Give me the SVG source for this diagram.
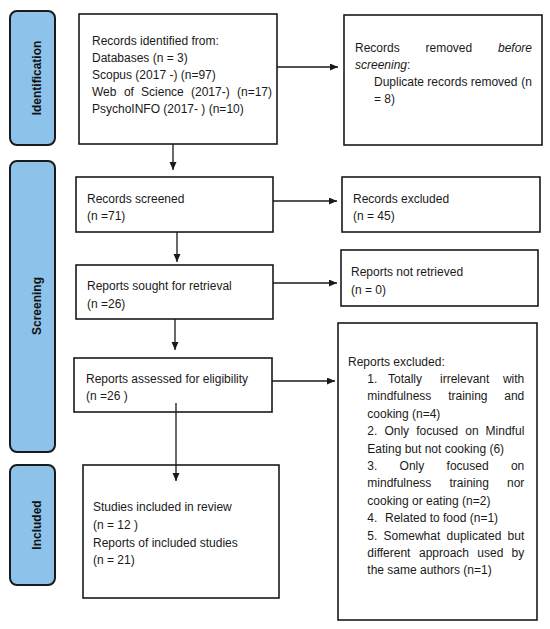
<svg xmlns="http://www.w3.org/2000/svg" width="550" height="629" viewBox="0 0 550 629">
<style>
.bg{fill:#ffffff}
.box{fill:#ffffff;stroke:#1a1a1a;stroke-width:1.6}
.side{fill:#8dc3eb;stroke:#1a1a1a;stroke-width:2}
.t{font-family:"Liberation Sans",Arial,sans-serif;font-size:12px;fill:#1a1a1a}
.it{font-style:italic}
.st{font-family:"Liberation Sans",Arial,sans-serif;font-size:12px;font-weight:bold;fill:#111111;text-anchor:middle}
.end{text-anchor:end}
.ln{stroke:#1a1a1a;stroke-width:1.3;fill:none;marker-end:url(#ah)}
</style>
<defs>
<marker id="ah" markerUnits="userSpaceOnUse" markerWidth="9" markerHeight="8" refX="8" refY="3.5" orient="auto">
<path d="M0,0 L8,3.5 L0,7 z" fill="#1a1a1a"/>
</marker>
</defs>
<rect class="bg" x="0" y="0" width="550" height="629"/>

<g id="side-identification">
<rect class="side" x="10" y="11" width="45" height="134" rx="7"/>
<text class="st" transform="translate(40.5,78) rotate(-90)">Identification</text>
</g>
<g id="side-screening">
<rect class="side" x="10" y="161" width="45" height="291" rx="7"/>
<text class="st" transform="translate(40.5,306) rotate(-90)">Screening</text>
</g>
<g id="side-included">
<rect class="side" x="10" y="465" width="45" height="120" rx="7"/>
<text class="st" transform="translate(40.5,525) rotate(-90)">Included</text>
</g>

<g id="records-identified">
<rect class="box" x="79" y="14" width="198" height="130"/>
<text class="t" x="92" y="45">Records identified from:</text>
<text class="t" x="92" y="62">Databases (n = 3)</text>
<text class="t" x="92" y="79">Scopus (2017 -) (n=97)</text>
<text class="t" y="95.5"><tspan x="92">Web</tspan><tspan x="123.9">of</tspan><tspan x="141.1">Science</tspan><tspan x="191">(2017-)</tspan></text>
<text class="t end" x="272" y="95.5">(n=17)</text>
<text class="t" x="92" y="112.5">PsychoINFO (2017- ) (n=10)</text>
</g>

<g id="records-removed">
<rect class="box" x="344" y="15" width="198" height="130"/>
<text class="t" y="52"><tspan x="355">Records</tspan><tspan x="425.5">removed</tspan></text>
<text class="t it end" x="532" y="52">before</text>
<text class="t" x="355" y="69"><tspan class="it">screening</tspan>:</text>
<text class="t" x="374" y="86">Duplicate records removed</text>
<text class="t end" x="532" y="86">(n</text>
<text class="t" x="374" y="103">= 8)</text>
</g>

<g id="records-screened">
<rect class="box" x="76" y="177" width="197" height="55"/>
<text class="t" x="87" y="202.5">Records screened</text>
<text class="t" x="87" y="220">(n =71)</text>
</g>

<g id="records-excluded">
<rect class="box" x="342" y="177" width="198" height="55"/>
<text class="t" x="353" y="202.5">Records excluded</text>
<text class="t" x="353" y="220">(n = 45)</text>
</g>

<g id="reports-sought">
<rect class="box" x="76" y="265" width="197" height="54"/>
<text class="t" x="87" y="290">Reports sought for retrieval</text>
<text class="t" x="87" y="308">(n =26)</text>
</g>

<g id="reports-not-retrieved">
<rect class="box" x="341" y="250" width="197" height="56"/>
<text class="t" x="351" y="276">Reports not retrieved</text>
<text class="t" x="351" y="294">(n = 0)</text>
</g>

<g id="reports-assessed">
<rect class="box" x="74" y="358" width="198" height="54"/>
<text class="t" x="86" y="383">Reports assessed for eligibility</text>
<text class="t" x="86" y="400">(n =26 )</text>
</g>

<g id="reports-excluded">
<rect class="box" x="338" y="323" width="199" height="297"/>
<text class="t" x="348" y="366">Reports excluded:</text>
<text class="t" y="383"><tspan x="367.3">1.</tspan><tspan x="388">Totally</tspan><tspan x="440">irrelevant</tspan></text>
<text class="t end" x="524.3" y="383">with</text>
<text class="t" y="400.4"><tspan x="367.3">mindfulness</tspan><tspan x="448.2">training</tspan></text>
<text class="t end" x="524.3" y="400.4">and</text>
<text class="t" x="367.3" y="417.8">cooking (n=4)</text>
<text class="t" y="435.2"><tspan x="367.3">2.</tspan><tspan x="384.4">Only</tspan><tspan x="416.2">focused</tspan><tspan x="465.3">on</tspan></text>
<text class="t end" x="524.3" y="435.2">Mindful</text>
<text class="t" x="367.3" y="452.6">Eating but not cooking (6)</text>
<text class="t" y="470"><tspan x="367.3">3.</tspan><tspan x="399.6">Only</tspan><tspan x="446.6">focused</tspan></text>
<text class="t end" x="524.3" y="470">on</text>
<text class="t" y="487.4"><tspan x="367.3">mindfulness</tspan><tspan x="449.5">training</tspan></text>
<text class="t end" x="524.3" y="487.4">nor</text>
<text class="t" x="367.3" y="504.8">cooking or eating (n=2)</text>
<text class="t" y="522.2"><tspan x="367.3">4.</tspan><tspan x="385">Related to food (n=1)</tspan></text>
<text class="t" y="539.6"><tspan x="367.3">5.</tspan><tspan x="383.6">Somewhat</tspan><tspan x="446.6">duplicated</tspan></text>
<text class="t end" x="524.3" y="539.6">but</text>
<text class="t" y="557"><tspan x="367.3">different</tspan><tspan x="419">approach</tspan><tspan x="477.3">used</tspan></text>
<text class="t end" x="524.3" y="557">by</text>
<text class="t" x="367.3" y="574.4">the same authors  (n=1)</text>
</g>

<g id="studies-included">
<rect class="box" x="83" y="465" width="196" height="133"/>
<text class="t" x="93" y="511">Studies included in review</text>
<text class="t" x="93" y="529">(n = 12 )</text>
<text class="t" x="93" y="546.5">Reports of included studies</text>
<text class="t" x="93" y="564">(n = 21)</text>
</g>

<g id="connectors">
<line class="ln" x1="277" y1="67" x2="338" y2="67"/>
<line class="ln" x1="173" y1="144" x2="173" y2="170"/>
<line class="ln" x1="273" y1="201" x2="337" y2="201"/>
<line class="ln" x1="177" y1="232" x2="177" y2="262"/>
<line class="ln" x1="273" y1="283" x2="337" y2="283"/>
<line class="ln" x1="175" y1="319" x2="175" y2="350"/>
<line class="ln" x1="272" y1="381" x2="335" y2="381"/>
<line class="ln" x1="176" y1="403" x2="176" y2="481"/>
</g>
</svg>
